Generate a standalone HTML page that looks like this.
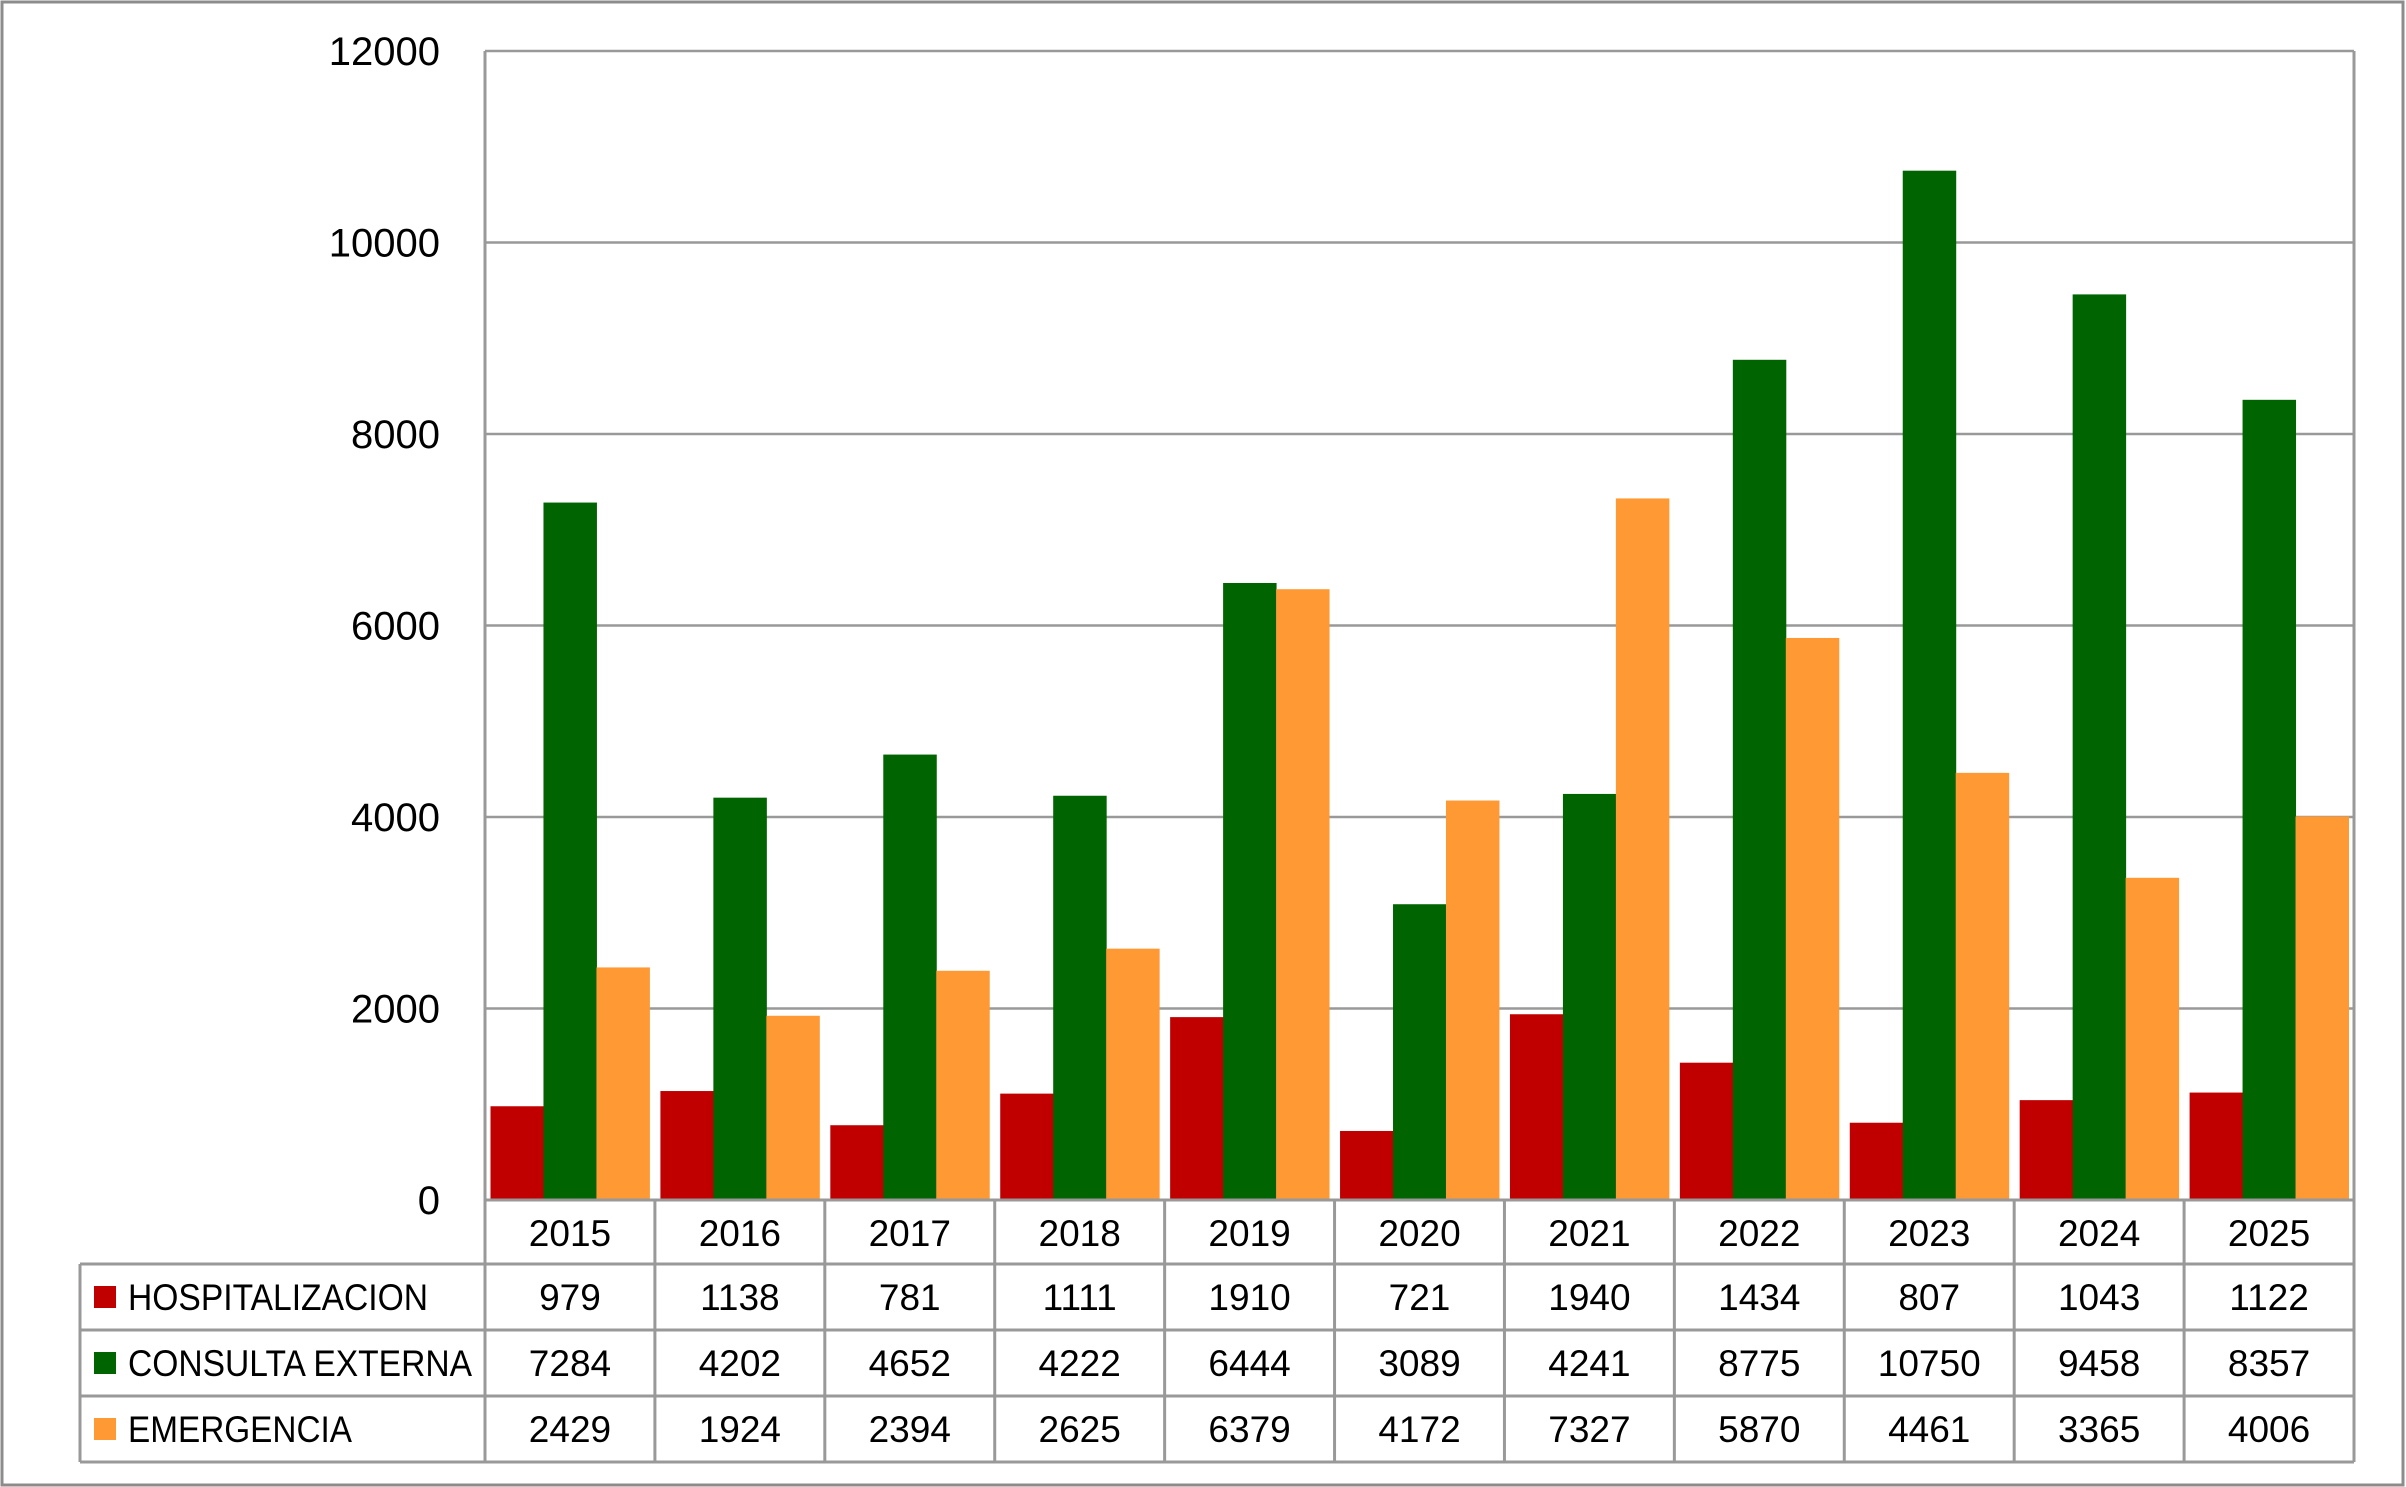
<!DOCTYPE html>
<html><head><meta charset="utf-8"><style>
html,body{margin:0;padding:0;background:#fff;}
svg{display:block;font-family:"Liberation Sans",sans-serif;}
</style></head><body>
<svg id="chart" width="2406" height="1487" viewBox="0 0 2406 1487" xmlns="http://www.w3.org/2000/svg">
<rect x="2" y="2" width="2401" height="1483" fill="#fff" stroke="#8c8c8c" stroke-width="3"/>
<g id="grid"></g><g id="bars"></g><g id="table"></g><g id="yticks"></g>
</svg>
<script>
const categories=["2015","2016","2017","2018","2019","2020","2021","2022","2023","2024","2025"];
const hospitalizacion=[979,1138,781,1111,1910,721,1940,1434,807,1043,1122];
const consultaExterna=[7284,4202,4652,4222,6444,3089,4241,8775,10750,9458,8357];
const emergencia=[2429,1924,2394,2625,6379,4172,7327,5870,4461,3365,4006];
const yTicks=[0,2000,4000,6000,8000,10000,12000];
const seriesNames=["HOSPITALIZACION","CONSULTA EXTERNA","EMERGENCIA"];
const seriesColors=["#c00000","#006400","#ff9933"];

const NS="http://www.w3.org/2000/svg";
const L=485,R=2354,T=51,B=1200,YMAX=12000;
const cw=(R-L)/categories.length;
const y=v=>B-(v/YMAX)*(B-T);
const x=i=>L+i*cw;
function mk(tag,attrs,parent,text){const e=document.createElementNS(NS,tag);for(const k in attrs)e.setAttribute(k,attrs[k]);if(text!==undefined)e.textContent=text;parent.appendChild(e);return e;}
const grid=document.getElementById('grid'),bars=document.getElementById('bars'),table=document.getElementById('table'),yt=document.getElementById('yticks');
yTicks.forEach(t=>{
  const ln=mk('line',{x1:L,x2:R,y1:y(t),y2:y(t),stroke:'#999','stroke-width':2.5},grid);
  
  
  const tx=mk('text',{x:440,y:y(t)+14,'text-anchor':'end','font-size':40,fill:'#000'},yt,String(t));
  
  
});
const ax=mk('line',{x1:L,x2:L,y1:T,y2:B,stroke:'#999','stroke-width':3},grid);


const rb=mk('line',{x1:R,x2:R,y1:T,y2:B,stroke:'#999','stroke-width':3},grid);


const series=[hospitalizacion,consultaExterna,emergencia];
const gap=5.5,bw=(cw-2*gap)/3;
series.forEach((s,si)=>{s.forEach((v,i)=>{
  const r=mk('rect',{x:x(i)+gap+si*bw,y:y(v),width:bw+0.5,height:B-y(v),fill:seriesColors[si]},bars);
  
  
});});
const rowY=[1200,1264,1330,1396,1462];
const TL=80;
const labelW=[300,344,224];
const st={stroke:'#999','stroke-width':3};
mk('line',Object.assign({x1:L,x2:R,y1:rowY[0],y2:rowY[0]},st),table);
for(let r=1;r<rowY.length;r++) mk('line',Object.assign({x1:TL,x2:R,y1:rowY[r],y2:rowY[r]},st),table);
for(let i=0;i<=categories.length;i++) mk('line',Object.assign({x1:x(i),x2:x(i),y1:rowY[0],y2:rowY[4]},st),table);
mk('line',Object.assign({x1:TL,x2:TL,y1:rowY[1],y2:rowY[4]},st),table);
categories.forEach((c,i)=>{
  const t=mk('text',{x:x(i)+cw/2,y:rowY[0]+46,'text-anchor':'middle','font-size':37},table,c);
  
  
});
series.forEach((s,si)=>{
  const ry=rowY[si+1];
  const sq=mk('rect',{x:94,y:ry+22,width:22,height:22,fill:seriesColors[si]},table);
  
  
  const lt=mk('text',{x:128,y:ry+46,'font-size':37,textLength:labelW[si],lengthAdjust:'spacingAndGlyphs'},table,seriesNames[si]);
  
  
  s.forEach((v,i)=>{
    const t=mk('text',{x:x(i)+cw/2,y:ry+46,'text-anchor':'middle','font-size':37},table,String(v));
    
    
  });
});
</script>
</body></html>
